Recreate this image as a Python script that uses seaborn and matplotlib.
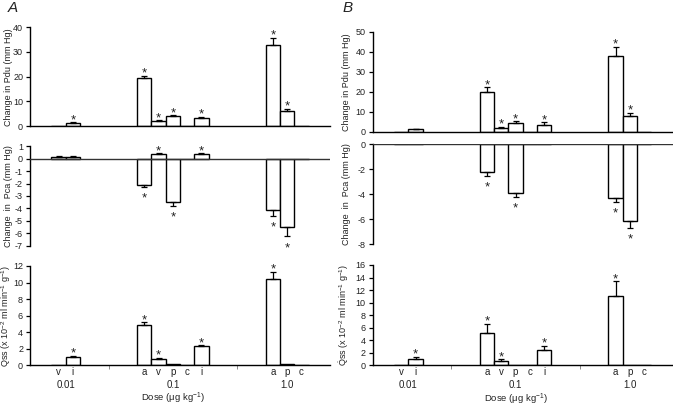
import numpy as np
import pandas as pd
import matplotlib
matplotlib.use("Agg")
import matplotlib.pyplot as plt
import seaborn as sns

# slot layout shared by every panel
cat_labels = ['v', 'i', 'a', 'v', 'p', 'c', 'i', 'a', 'p', 'c']
cat_pos = [2, 3, 8, 9, 10, 11, 12, 17, 18, 19]
dose_labels = ['0.01', '0.1', '1.0']
dose_pos = [2.5, 10, 18]
group_sep = [5.5, 14.5]

# panel A
pdu_a = [0, 1.1, 19.4, 1.9, 4.0, 0, 3.4, 33.0, 6.2, 0]
pdu_a_err = [0, 0.4, 0.9, 0.4, 0.4, 0, 0.5, 2.7, 0.7, 0]
pdu_a_sig = [0, 1, 1, 1, 1, 0, 1, 1, 1, 0]
pca_a = [0.1, 0.1, -2.1, 0.35, -3.45, 0, 0.35, -4.15, -5.5, 0]
pca_a_err = [0.08, 0.08, 0.2, 0.07, 0.35, 0, 0.07, 0.43, 0.75, 0]
pca_a_sig = [0, 0, 1, 1, 1, 0, 1, 1, 1, 0]
qss_a = [0, 1.05, 4.83, 0.8, 0.1, 0, 2.3, 10.4, 0.1, 0]
qss_a_err = [0, 0.12, 0.35, 0.13, 0, 0, 0.12, 0.85, 0, 0]
qss_a_sig = [0, 1, 1, 1, 0, 0, 1, 1, 0, 0]

# panel B
pdu_b = [0, 1.2, 19.7, 1.8, 4.2, 0, 3.5, 37.8, 7.7, 0]
pdu_b_err = [0, 0.4, 2.5, 0.6, 1.1, 0, 1.2, 4.7, 1.8, 0]
pdu_b_sig = [0, 0, 1, 1, 1, 0, 1, 1, 1, 0]
pca_b = [0, 0, -2.24, 0, -3.92, 0, 0, -4.32, -6.13, 0]
pca_b_err = [0, 0, 0.26, 0, 0.27, 0, 0, 0.32, 0.54, 0]
pca_b_sig = [0, 0, 1, 0, 1, 0, 0, 1, 1, 0]
qss_b = [0, 1.0, 5.1, 0.7, 0.1, 0, 2.45, 11.06, 0.1, 0]
qss_b_err = [0, 0.38, 1.5, 0.26, 0, 0, 0.63, 2.34, 0, 0]
qss_b_sig = [0, 1, 1, 1, 0, 0, 1, 1, 0, 0]

sns.set_style('ticks')
plt.rcParams['font.family'] = ['Liberation Sans', 'DejaVu Sans']
plt.rcParams['mathtext.fontset'] = 'custom'
plt.rcParams['mathtext.rm'] = 'Liberation Sans'
plt.rcParams['mathtext.it'] = 'Liberation Sans:italic'
TXT = '#222222'

pdu_label = 'Change in Pdu (mm Hg)'
pca_label = 'Change  in  Pca (mm Hg)'
qss_label = r'$\dot{\mathrm{Q}}$ss (x 10$^{-2}$ ml min$^{-1}$ g$^{-1}$)'


def bar_panel(ax, vals, errs, sig, ylim, yticks, ylabel, label_x, kind):
    df = pd.DataFrame({'x': cat_pos, 'y': vals})
    sns.barplot(data=df, x='x', y='y', native_scale=True, width=1.0,
                color='white', edgecolor='black', linewidth=1.0,
                errorbar=None, ax=ax)
    # make neighbouring bars touch, as in the original figure
    for patch, x in zip(ax.patches, cat_pos):
        patch.set_width(1.0)
        patch.set_x(x - 0.5)
    vals = np.array(vals)
    errs = np.array(errs)
    up = np.where(vals >= 0, errs, 0)
    down = np.where(vals < 0, errs, 0)
    has = errs > 0
    ax.errorbar(np.array(cat_pos)[has], vals[has],
                yerr=[down[has], up[has]], fmt='none', ecolor='black',
                elinewidth=0.9, capsize=2, capthick=0.9)
    for x, v, e, s in zip(cat_pos, vals, errs, sig):
        if not s:
            continue
        if v >= 0:
            ax.annotate('*', xy=(x, v + e), xytext=(0, -0.5),
                        textcoords='offset points', ha='center',
                        va='baseline', fontsize=9.5, color=TXT,
                        annotation_clip=False)
        else:
            ax.annotate('*', xy=(x, v - e), xytext=(0, -10.5),
                        textcoords='offset points', ha='center',
                        va='baseline', fontsize=9.5, color=TXT,
                        annotation_clip=False)

    ax.set_xlim(0, 21)
    ax.set_ylim(*ylim)
    ax.set_yticks(yticks)
    ax.set_yticklabels([str(t) for t in yticks], fontsize=6.5, color=TXT)
    ax.tick_params(axis='y', length=3, width=0.9, pad=2, color='black')
    ax.set_ylabel(ylabel, fontsize=6.5, color=TXT)
    ax.yaxis.set_label_coords(label_x, 0.5)
    ax.set_xlabel('')
    sns.despine(ax=ax)
    ax.spines['left'].set_linewidth(1.0)
    ax.spines['left'].set_color('black')
    ax.spines['bottom'].set_linewidth(1.0)
    ax.spines['bottom'].set_color('black')

    if kind == 'pca':
        ax.spines['bottom'].set_visible(False)
        ax.axhline(0, color='#333333', lw=1.0, zorder=3)
        ax.set_xticks([])
    elif kind == 'pdu':
        ax.set_xticks([])
    else:
        ax.set_xticks(cat_pos)
        ax.set_xticklabels(cat_labels, fontsize=7, color=TXT)
        ax.tick_params(axis='x', which='major', length=0, pad=1.5)
        ax.set_xticks(group_sep, minor=True)
        ax.tick_params(axis='x', which='minor', length=3, width=0.6,
                       color='#777777')
        tr = ax.get_xaxis_transform()
        for p, t in zip(dose_pos, dose_labels):
            ax.text(p, -0.2, t, transform=tr, ha='center', va='center',
                    fontsize=7, color=TXT)
        ax.text(10, -0.365, 'Dose (μg kg$^{-1}$)', transform=tr,
                ha='center', va='baseline', fontsize=6.8, color=TXT)


fig = plt.figure(figsize=(6.73, 4.07), dpi=100)

left_a, left_b, w = 0.0446, 0.5538, 0.4458
ax1 = fig.add_axes([left_a, 0.690, w, 0.243])
ax2 = fig.add_axes([left_a, 0.396, w, 0.245])
ax3 = fig.add_axes([left_a, 0.1025, w, 0.244])
ax4 = fig.add_axes([left_b, 0.676, w, 0.2457])
ax5 = fig.add_axes([left_b, 0.3997, w, 0.2457])
ax6 = fig.add_axes([left_b, 0.1025, w, 0.2464])

bar_panel(ax1, pdu_a, pdu_a_err, pdu_a_sig, (0, 40), [0, 10, 20, 30, 40],
          pdu_label, -0.058, 'pdu')
bar_panel(ax2, pca_a, pca_a_err, pca_a_sig, (-7, 1), [1, 0, -1, -2, -3, -4, -5, -6, -7],
          pca_label, -0.058, 'pca')
bar_panel(ax3, qss_a, qss_a_err, qss_a_sig, (0, 12), [0, 2, 4, 6, 8, 10, 12],
          qss_label, -0.058, 'qss')
bar_panel(ax4, pdu_b, pdu_b_err, pdu_b_sig, (0, 50), [0, 10, 20, 30, 40, 50],
          pdu_label, -0.071, 'pdu')
bar_panel(ax5, pca_b, pca_b_err, pca_b_sig, (-8, 0), [0, -2, -4, -6, -8],
          pca_label, -0.071, 'pca')
bar_panel(ax6, qss_b, qss_b_err, qss_b_sig, (0, 16), [0, 2, 4, 6, 8, 10, 12, 14, 16],
          qss_label, -0.071, 'qss')

fig.text(8 / 673, 1 - 8 / 407, 'A', fontsize=11, style='italic', color=TXT,
         ha='left', va='center')
fig.text(343 / 673, 1 - 8 / 407, 'B', fontsize=11, style='italic', color=TXT,
         ha='left', va='center')

fig.savefig('out.png', dpi=100)
